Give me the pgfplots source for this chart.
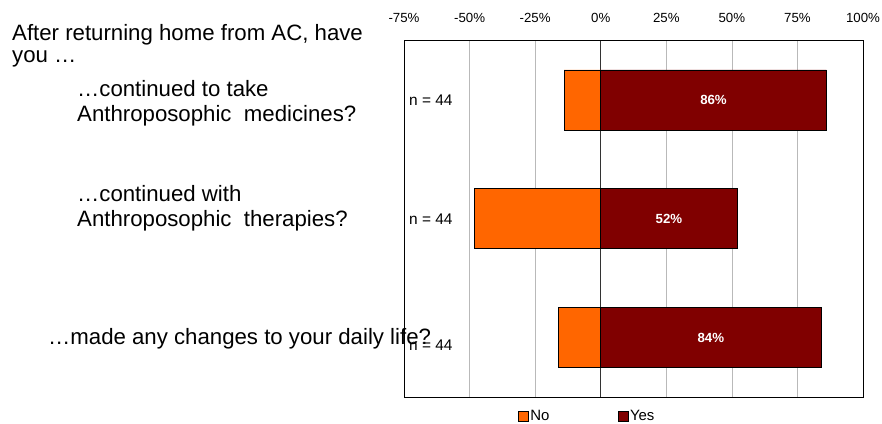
\documentclass[border=0pt]{standalone}
\usepackage{pgfplots}
\pgfplotsset{compat=1.18}
\usepackage{pgfplotstable}
\usepackage{fontspec}
\setmainfont{Liberation Sans}
\definecolor{noC}{HTML}{FF6600}
\definecolor{yesC}{HTML}{800000}

\pgfplotstableread{
cat no yes n
0 -14 86 44
1 -48 52 44
2 -16 84 44
}\data

\begin{document}
\begin{tikzpicture}[x=1bp,y=1bp]
\useasboundingbox (0,0) rectangle (882,423);
\begin{axis}[
  at={(404bp,26bp)}, anchor=south west,
  scale only axis, width=459bp, height=356.5bp,
  xmin=-75, xmax=100, ymin=-0.5, ymax=2.5, y dir=reverse,
  xbar, bar width=0.505, bar shift=0pt,
  xtick={-75,-50,...,100},
  xticklabel pos=upper,
  xticklabel={\pgfmathprintnumber{\tick}\%},
  /pgf/number format/assume math mode=true,
  ytick=\empty,
  major tick length=0pt,
  xmajorgrids, grid style={gray!55, line width=0.7pt},
  extra x ticks={0}, extra x tick labels={},
  extra x tick style={grid style={black!80, line width=0.9pt}},
  axis line style={black, line width=0.9pt},
  tick label style={font=\fontsize{13.3}{16}\selectfont},
  xticklabel style={yshift=14bp},
  clip=false,
  legend columns=2,
  legend style={at={(axis description cs:0.399,-0.053)}, anchor=center, draw=none, fill=none,
    font=\fontsize{15}{18}\selectfont, /tikz/every even column/.append style={column sep=66bp},
    inner sep=0pt},
  legend image code/.code={\draw[#1,draw=black,line width=0.5pt] (0bp,-5bp) rectangle (10bp,5bp);},
]
\addplot[fill=noC, draw=black, line width=0.7pt] table[x=no, y=cat] {\data};
\addlegendentry{No}
\addplot[fill=yesC, draw=black, line width=0.7pt] table[x=yes, y=cat] {\data};
\addlegendentry{Yes}
\addplot[only marks, mark=none, forget plot, point meta=explicit,
  nodes near coords={\pgfmathprintnumber{\pgfplotspointmeta}\%},
  every node near coord/.style={anchor=center, text=white, font=\bfseries\fontsize{13.3}{16}\selectfont}]
  table[x expr=\thisrow{yes}/2, y=cat, meta=yes] {\data};
\end{axis}
\begin{scope}[every node/.style={anchor=base west, inner sep=0pt, font=\fontsize{15.5}{18}\selectfont}]
\node at (409,423-105.7) {n = 44};
\node at (409,423-224) {n = 44};
\node at (409,423-350) {n = 44};
\end{scope}
\begin{scope}[every node/.style={anchor=base west, inner sep=0pt, font=\fontsize{22.3}{26}\selectfont}]
\node at (12,423-40) {After returning home from AC, have};
\node at (12,423-62) {you …};
\node at (77,423-96) {…continued to take};
\node at (77,423-121) {Anthroposophic\ \ medicines?};
\node at (77,423-201.7) {…continued with};
\node at (77,423-226.7) {Anthroposophic\ \ therapies?};
\node at (48,423-344) {…made any changes to your daily life?};
\end{scope}
\end{tikzpicture}
\end{document}
